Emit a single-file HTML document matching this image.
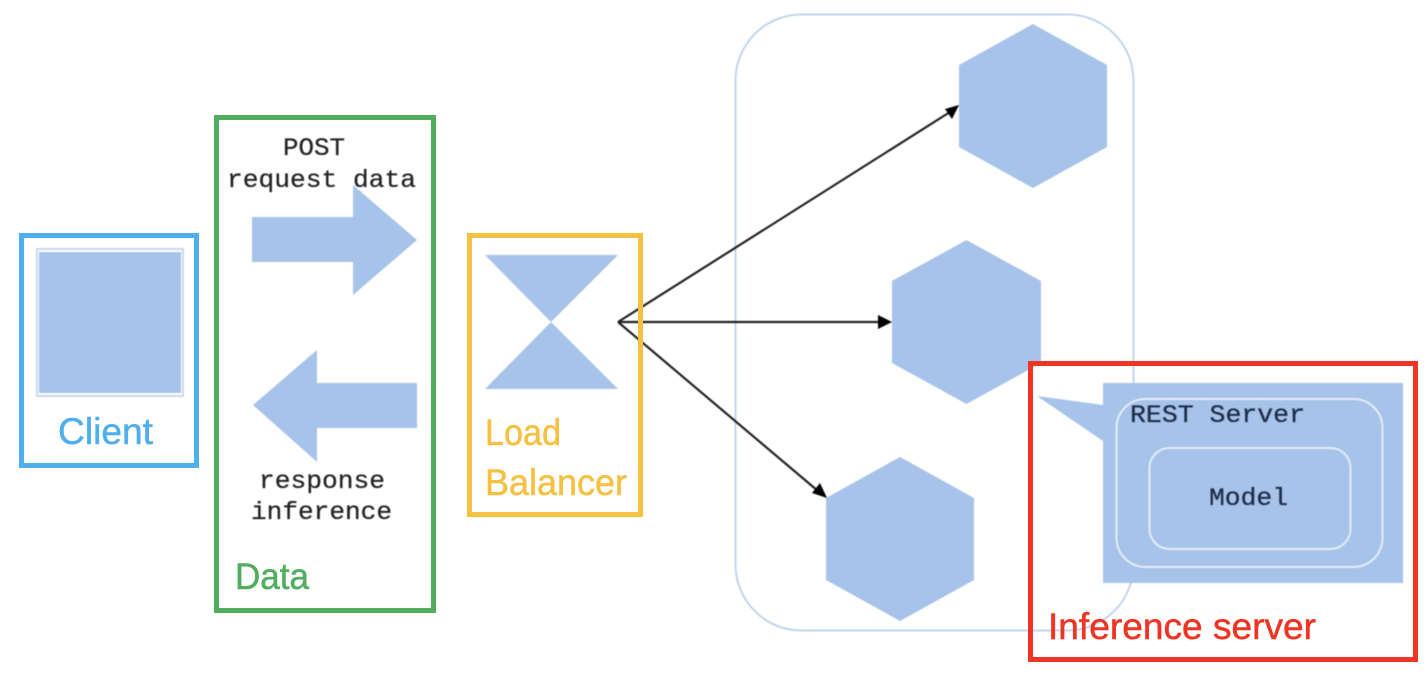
<!DOCTYPE html>
<html>
<head>
<meta charset="utf-8">
<style>
html,body{margin:0;padding:0;background:#fff;width:1428px;height:674px;overflow:hidden}
svg{display:block}
.m{font-family:"Liberation Mono",monospace;font-size:25px;fill:#222;stroke:#222;stroke-width:.25px}
.c{font-family:"Liberation Sans",sans-serif;font-size:37px;stroke-width:.5px}
.soft{filter:blur(.45px)}
</style>
</head>
<body>
<svg width="1428" height="674" viewBox="0 0 1428 674" xmlns="http://www.w3.org/2000/svg">
<rect width="1428" height="674" fill="#fff"/>
<g class="soft">
<!-- container -->
<rect x="735.5" y="14.5" width="398" height="616" rx="66" ry="66" fill="#fff" stroke="#bdd0e8" stroke-width="1.8"/>
<!-- hexagons -->
<g fill="#a7c3e9">
<polygon points="1033,24 1107,65 1107,147 1033,188 959,147 959,65"/>
<polygon points="966.5,240 1041,281 1041,363 966.5,404 892,363 892,281"/>
<polygon points="900,457 974,498 974,580 900,621 826,580 826,498"/>
</g>
<!-- connectors -->
<g stroke="#222" stroke-width="2.2" fill="none">
<line x1="618" y1="322" x2="950" y2="112"/>
<line x1="618" y1="322" x2="882" y2="322"/>
<line x1="618" y1="322" x2="818" y2="491"/>
</g>
<g fill="#000">
<polygon points="959,105 945,109 952,119"/>
<polygon points="892,322 878,315 878,329"/>
<polygon points="827,498 812,493 820,483"/>
</g>
<!-- client -->
<rect x="37" y="249" width="146" height="147" fill="#fff" stroke="#c9d8ec" stroke-width="2"/>
<rect x="39" y="252" width="142" height="141" fill="#a7c3e9"/>
<!-- data arrows -->
<g fill="#a7c3e9">
<polygon points="252,217 353,217 353,185 417,240 353,295 353,262 252,262"/>
<polygon points="253,405 317,350 317,383 417,383 417,428 317,428 317,462"/>
<!-- hourglass -->
<polygon points="485,255 618,255 551,322"/>
<polygon points="551,322 618,389 485,389"/>
<!-- callout -->
<polygon points="1037,396 1103,405 1103,383 1403,383 1403,583 1103,583 1103,441"/>
</g>
<rect x="1116.5" y="399" width="266" height="168" rx="29" ry="29" fill="none" stroke="#e3ecf8" stroke-width="2"/>
<rect x="1149.5" y="448" width="201" height="101" rx="20" ry="20" fill="none" stroke="#e3ecf8" stroke-width="2"/>
<!-- mono text -->
<text class="m" x="283" y="155" textLength="62" lengthAdjust="spacingAndGlyphs">POST</text>
<text class="m" x="227" y="187" textLength="189" lengthAdjust="spacingAndGlyphs">request data</text>
<text class="m" x="259" y="488" textLength="126" lengthAdjust="spacingAndGlyphs">response</text>
<text class="m" x="251" y="519" textLength="141" lengthAdjust="spacingAndGlyphs">inference</text>
<text class="m" x="1130" y="422" textLength="175" lengthAdjust="spacingAndGlyphs" style="fill:#1c2a48;stroke:#1c2a48">REST Server</text>
<text class="m" x="1209" y="505" textLength="79" lengthAdjust="spacingAndGlyphs" style="fill:#1c2a48;stroke:#1c2a48">Model</text>
</g>
<!-- coloured boxes -->
<g fill="none" stroke-width="5">
<rect x="21.5" y="235.5" width="175" height="230" stroke="#4fafec"/>
<rect x="216.5" y="117.5" width="217" height="493" stroke="#52ae5f"/>
<rect x="469.5" y="235.5" width="171" height="279" stroke="#f6c142"/>
<rect x="1030.5" y="363.5" width="385" height="296" stroke="#ee3524"/>
</g>
<!-- coloured labels -->
<text class="c" x="58" y="444" textLength="95" lengthAdjust="spacingAndGlyphs" fill="#4fafec" stroke="#4fafec">Client</text>
<text class="c" x="235" y="589" textLength="74" lengthAdjust="spacingAndGlyphs" fill="#52ae5f" stroke="#52ae5f">Data</text>
<text class="c" x="485" y="445" textLength="76" lengthAdjust="spacingAndGlyphs" fill="#f6c142" stroke="#f6c142">Load</text>
<text class="c" x="485" y="495" textLength="142" lengthAdjust="spacingAndGlyphs" fill="#f6c142" stroke="#f6c142">Balancer</text>
<text class="c" x="1048" y="639" textLength="268" lengthAdjust="spacingAndGlyphs" fill="#ee3524" stroke="#ee3524">Inference server</text>
</svg>
</body>
</html>
